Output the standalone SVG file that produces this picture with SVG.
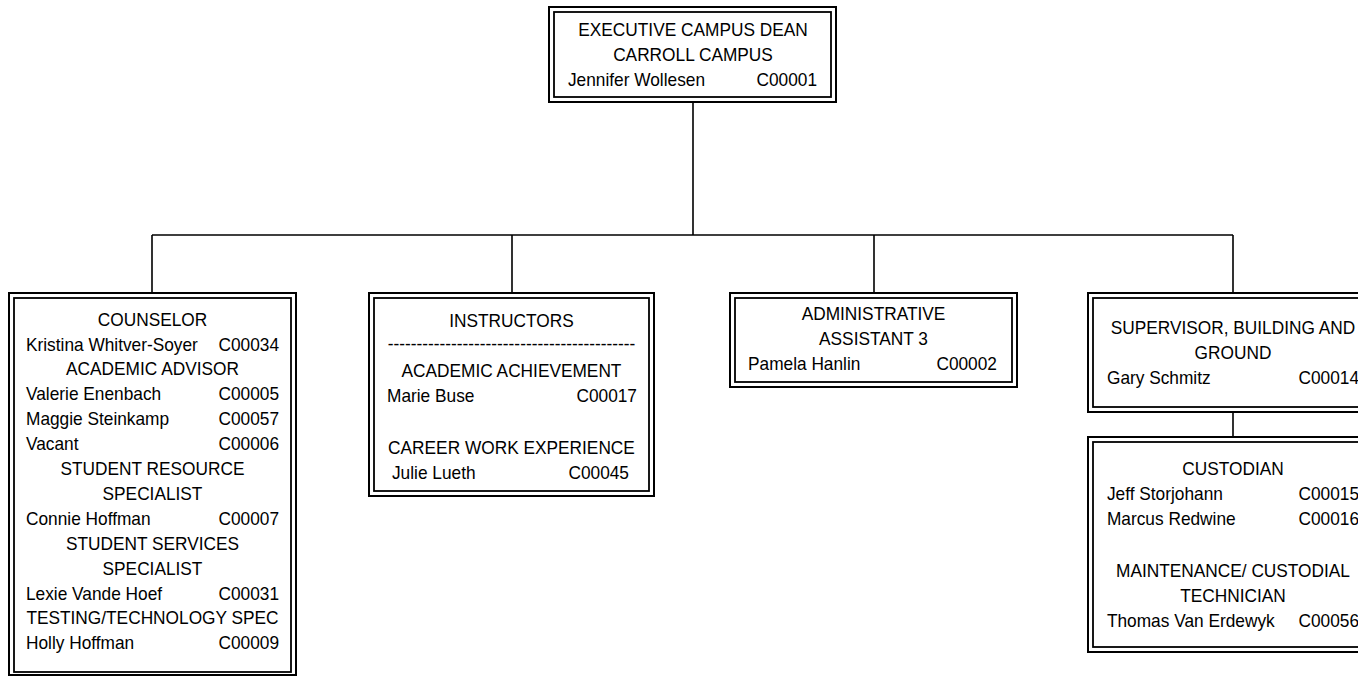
<svg xmlns="http://www.w3.org/2000/svg" width="1358" height="676" viewBox="0 0 1358 676">
<style>
.bg{fill:#fff}
.o{fill:#fff;stroke:#000;stroke-width:2}
.i{fill:none;stroke:#000;stroke-width:1.8}
.ln{fill:none;stroke:#000;stroke-width:1.6}
text{font-family:"Liberation Sans",Arial,sans-serif;font-size:18.8px;fill:#000}
.c{text-anchor:middle}
.r{text-anchor:end}
</style>
<rect class="bg" x="0" y="0" width="1358" height="676"/>
<g id="connectors">
<path class="ln" d="M693 103V235M152 235H1233M152 235V292M512 235V292M874 235V292M1233 235V292M1233 413V436"/>
</g>
<g id="dean">
<rect class="o" x="549" y="7" width="287" height="95"/>
<rect class="i" x="554" y="12" width="277" height="85"/>
<g transform="translate(693 0) scale(0.92 1) translate(-693 0)">
<text class="c" x="693" y="36.2">EXECUTIVE CAMPUS DEAN</text>
<text class="c" x="693" y="61.2">CARROLL CAMPUS</text>
<text x="557.1" y="86.2">Jennifer Wollesen</text>
<text class="r" x="827.8" y="86.2">C00001</text>
</g>
</g>
<g id="counselor">
<rect class="o" x="9" y="293" width="287" height="382"/>
<rect class="i" x="14" y="298" width="277" height="374"/>
<g transform="translate(152.5 0) scale(0.92 1) translate(-152.5 0)">
<text class="c" x="152.5" y="325.7">COUNSELOR</text>
<text x="15" y="350.6">Kristina Whitver-Soyer</text><text class="r" x="290" y="350.6">C00034</text>
<text class="c" x="152.5" y="375.5">ACADEMIC ADVISOR</text>
<text x="15" y="400.4">Valerie Enenbach</text><text class="r" x="290" y="400.4">C00005</text>
<text x="15" y="425.3">Maggie Steinkamp</text><text class="r" x="290" y="425.3">C00057</text>
<text x="15" y="450.2">Vacant</text><text class="r" x="290" y="450.2">C00006</text>
<text class="c" x="152.5" y="475.1">STUDENT RESOURCE</text>
<text class="c" x="152.5" y="500">SPECIALIST</text>
<text x="15" y="524.9">Connie Hoffman</text><text class="r" x="290" y="524.9">C00007</text>
<text class="c" x="152.5" y="549.8">STUDENT SERVICES</text>
<text class="c" x="152.5" y="574.7">SPECIALIST</text>
<text x="15" y="599.6">Lexie Vande Hoef</text><text class="r" x="290" y="599.6">C00031</text>
<text class="c" x="152.5" y="624.5">TESTING/TECHNOLOGY SPEC</text>
<text x="15" y="649.4">Holly Hoffman</text><text class="r" x="290" y="649.4">C00009</text>
</g>
</g>
<g id="instructors">
<rect class="o" x="369" y="293" width="285" height="203"/>
<rect class="i" x="374" y="298" width="275" height="193"/>
<g transform="translate(511.5 0) scale(0.92 1) translate(-511.5 0)">
<text class="c" x="511.5" y="326.7">INSTRUCTORS</text>
<text class="c" x="511.5" y="350">-------------------------------------------</text>
<text class="c" x="511.5" y="376.7">ACADEMIC ACHIEVEMENT</text>
<text x="376.2" y="401.7">Marie Buse</text><text class="r" x="647.9" y="401.7">C00017</text>
<text class="c" x="511.5" y="453.7">CAREER WORK EXPERIENCE</text>
<text x="381.6" y="478.7">Julie Lueth</text><text class="r" x="639.2" y="478.7">C00045</text>
</g>
</g>
<g id="admin">
<rect class="o" x="730" y="293" width="287" height="94"/>
<rect class="i" x="735" y="298" width="277" height="84"/>
<g transform="translate(873.5 0) scale(0.92 1) translate(-873.5 0)">
<text class="c" x="873.5" y="320.4">ADMINISTRATIVE</text>
<text class="c" x="873.5" y="345">ASSISTANT 3</text>
<text x="737.1" y="369.7">Pamela Hanlin</text><text class="r" x="1007.7" y="369.7">C00002</text>
</g>
</g>
<g id="supervisor">
<rect class="o" x="1088" y="293" width="290" height="119"/>
<rect class="i" x="1093" y="298" width="280" height="109"/>
<g transform="translate(1233 0) scale(0.92 1) translate(-1233 0)">
<text class="c" x="1233" y="333.7">SUPERVISOR, BUILDING AND</text>
<text class="c" x="1233" y="358.7">GROUND</text>
<text x="1096" y="383.7">Gary Schmitz</text><text class="r" x="1370" y="383.7">C00014</text>
</g>
</g>
<g id="custodian">
<rect class="o" x="1088" y="437" width="290" height="215"/>
<rect class="i" x="1093" y="442" width="280" height="205"/>
<g transform="translate(1233 0) scale(0.92 1) translate(-1233 0)">
<text class="c" x="1233" y="474.7">CUSTODIAN</text>
<text x="1096" y="499.7">Jeff Storjohann</text><text class="r" x="1370" y="499.7">C00015</text>
<text x="1096" y="524.7">Marcus Redwine</text><text class="r" x="1370" y="524.7">C00016</text>
<text class="c" x="1233" y="576.7">MAINTENANCE/ CUSTODIAL</text>
<text class="c" x="1233" y="601.7">TECHNICIAN</text>
<text x="1096" y="626.7">Thomas Van Erdewyk</text><text class="r" x="1370" y="626.7">C00056</text>
</g>
</g>
</svg>
